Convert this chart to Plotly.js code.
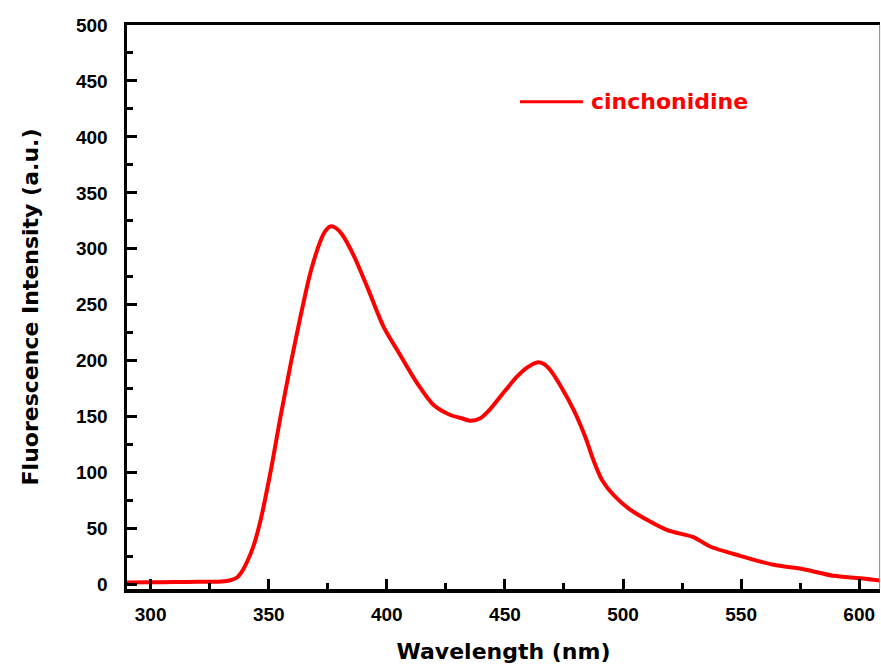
<!DOCTYPE html>
<html>
<head>
<meta charset="utf-8">
<script src="https://cdn.plot.ly/plotly-3.0.1.min.js"></script>
<style>html,body{margin:0;padding:0;background:#fff;}#chart{width:881px;height:668px;}</style>
</head>
<body>
<div id="chart"></div>
<script>
const seriesName = "cinchonidine";
const wavelength = [290, 300, 310, 320, 330, 333.8, 336.7, 338.5, 341, 343.5, 346.5, 350.8, 355, 359.2, 363.5, 367.7, 371.9, 374, 376.1, 378.5, 381, 386, 391.7, 398.7, 404.4, 412.8, 419.8, 426.9, 431, 435.4, 439.6, 443, 448.1, 455.1, 459.5, 463.6, 466.5, 469.2, 473.4, 479.1, 484, 487.5, 491.1, 496, 503, 518.5, 529.8, 536.9, 549.6, 563.7, 576.4, 589.1, 600.4, 608.8];
const intensity = [1.8, 2.0, 2.2, 2.5, 2.6, 3.8, 6.5, 11, 21, 34, 57, 101, 150, 196, 240, 279, 307, 316, 320, 318.5, 313, 294, 266, 230, 209.5, 180, 160.4, 151.5, 149, 146.4, 148.6, 155, 168, 185.7, 194, 198.5, 197, 191.7, 178, 156, 132, 111, 93.5, 80, 67, 48.8, 42.3, 34, 25.6, 17.6, 13.7, 7.8, 5.7, 3.6];
const xTicks = [300, 350, 400, 450, 500, 550, 600];
const yTicks = [0, 50, 100, 150, 200, 250, 300, 350, 400, 450, 500];

const red = '#ff0000';
const trace = {
  x: wavelength, y: intensity, type: 'scatter', mode: 'lines', name: seriesName,
  line: {color: red, width: 4, shape: 'spline', smoothing: 0.8},
  showlegend: false, hoverinfo: 'x+y'
};

const tickFont = {family: 'Liberation Sans, Arial, sans-serif', size: 19, color: '#000', weight: 'bold'};
const titleFont = {family: 'DejaVu Sans, sans-serif', size: 22, color: '#000', weight: 'bold'};

const layout = {
  width: 881, height: 668,
  margin: {l: 127, r: 1, t: 25, b: 79, pad: 0},
  paper_bgcolor: '#ffffff', plot_bgcolor: '#ffffff',
  xaxis: {
    range: [290, 608.8], tickmode: 'array', tickvals: xTicks, ticktext: xTicks.map(String),
    ticks: 'inside', ticklen: 10, tickwidth: 3, tickcolor: '#000',
    minor: {dtick: 25, tick0: 0, ticks: 'inside', ticklen: 6, tickwidth: 3, tickcolor: '#000'},
    showline: true, linewidth: 3.5, linecolor: '#000', mirror: true,
    showgrid: false, zeroline: false, tickfont: tickFont, ticklabelstandoff: 6,
    title: {text: 'Wavelength (nm)', font: titleFont, standoff: 20}
  },
  yaxis: {
    range: [-4, 500], tickmode: 'array', tickvals: yTicks, ticktext: yTicks.map(String),
    ticks: 'inside', ticklen: 10, tickwidth: 3, tickcolor: '#000',
    minor: {dtick: 25, tick0: 0, ticks: 'inside', ticklen: 6, tickwidth: 3, tickcolor: '#000'},
    showline: true, linewidth: 3.5, linecolor: '#000', mirror: false,
    showgrid: false, zeroline: false, tickfont: tickFont, ticklabelstandoff: 12,
    title: {text: 'Fluorescence Intensity (a.u.)', font: titleFont, standoff: 32}
  },
  shapes: [
    {type: 'line', xref: 'paper', yref: 'paper', x0: (520-127)/753, x1: (583-127)/753, y0: (589-101.7)/564, y1: (589-101.7)/564, line: {color: red, width: 3}},
    {type: 'line', xref: 'paper', yref: 'paper', x0: 0.9995, x1: 0.9995, y0: 0, y1: 1, line: {color: '#888', width: 1}}
  ],
  annotations: [
    {xref: 'paper', yref: 'paper', x: (589-127)/753, y: (589-101.7)/564, xanchor: 'left', yanchor: 'middle', showarrow: false,
     text: seriesName, font: {family: 'DejaVu Sans, sans-serif', size: 22, color: red, weight: 'bold'}}
  ]
};

Plotly.newPlot('chart', [trace], layout, {displayModeBar: false, staticPlot: true});
</script>
</body>
</html>
